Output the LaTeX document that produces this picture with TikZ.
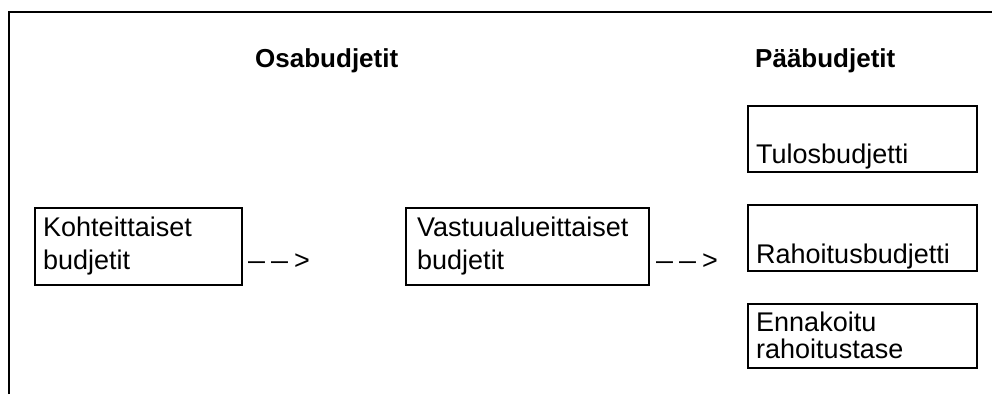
\documentclass[tikz,border=0pt]{standalone}
\usepackage{fontspec}
\usepackage{graphicx}
\setmainfont{Liberation Sans}
% long dash used in the flow markers
\newcommand{\longdash}{\scalebox{1.13}[1]{–}}
\begin{document}
\begin{tikzpicture}[x=1pt,y=-1pt,
  boxline/.style={draw=black,line width=2.7pt},
  lbl/.style={anchor=base west,inner sep=0pt,font=\fontsize{27}{30}\selectfont},
  head/.style={anchor=base west,inner sep=0pt,font=\fontsize{26}{30}\selectfont\bfseries},
  flow/.style={anchor=base west,inner sep=0pt,font=\fontsize{27}{30}\selectfont}]
\useasboundingbox (0,0) rectangle (992,394);
% frame edges
\draw[line width=2.5pt] (9,394) -- (9,12) -- (992,12);
% headings
\node[head] (hosa) at (255,67) {Osabudjetit};
\node[head] (hpaa) at (755,67) {Pääbudjetit};
% boxes
\draw[boxline] (35,208) rectangle (242,285);
\draw[boxline] (406,208) rectangle (649,285);
\draw[boxline] (748,106) rectangle (977,172);
\draw[boxline] (748,205) rectangle (977,271);
\draw[boxline] (748,304) rectangle (977,368);
% box texts
\node[lbl] (k1) at (43,236) {Kohteittaiset};
\node[lbl] (k2) at (43,269) {budjetit};
\node[lbl] (v1) at (417,236) {Vastuualueittaiset};
\node[lbl] (v2) at (417,269) {budjetit};
\node[lbl] (t1) at (756,163) {Tulosbudjetti};
\node[lbl] (r1) at (756,263) {Rahoitusbudjetti};
\node[lbl] (e1) at (756,331) {Ennakoitu};
\node[lbl] (e2) at (756,358) {rahoitustase};
% flow markers
\node[flow] (f1) at (248,269) {\longdash\kern6pt\longdash\kern6pt>};
\node[flow] (f2) at (656,269) {\longdash\kern6pt\longdash\kern6pt>};
\end{tikzpicture}
\end{document}
